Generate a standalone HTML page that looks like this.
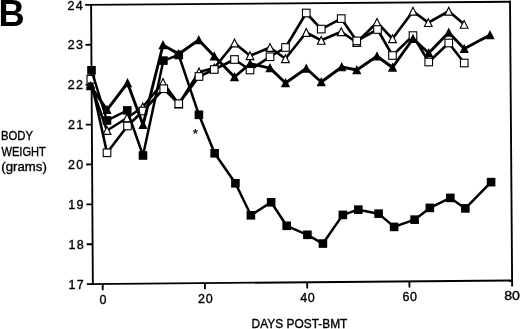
<!DOCTYPE html>
<html><head><meta charset="utf-8"><title>B</title>
<style>
html,body{margin:0;padding:0;background:#fff;}
svg{display:block;}
text{font-family:"Liberation Sans",sans-serif;fill:#000;}
</style></head>
<body>
<svg width="520" height="329" viewBox="0 0 520 329">
<rect width="520" height="329" fill="#fff"/>
<g stroke="#000" stroke-width="1.85" fill="none" stroke-linecap="butt">
<line x1="85.1" y1="4.95" x2="511.0" y2="1.75"/>
<line x1="510.0" y1="0.75" x2="512.15" y2="286.5"/>
<line x1="86.85" y1="284.15000000000003" x2="512.1" y2="280.5"/>
<line x1="91.1" y1="4.9" x2="92.85" y2="285.1"/>
<line x1="85.35" y1="44.84" x2="91.35" y2="44.79"/>
<line x1="85.60" y1="84.72" x2="91.60" y2="84.67"/>
<line x1="85.85" y1="124.61" x2="91.85" y2="124.56"/>
<line x1="86.10" y1="164.49" x2="92.10" y2="164.44"/>
<line x1="86.35" y1="204.38" x2="92.35" y2="204.33"/>
<line x1="86.60" y1="244.26" x2="92.60" y2="244.21"/>
<line x1="102.68" y1="284.01" x2="102.72" y2="290.21"/>
<line x1="204.93" y1="283.13" x2="204.97" y2="289.33"/>
<line x1="307.19" y1="282.26" x2="307.23" y2="288.46"/>
<line x1="409.44" y1="281.38" x2="409.48" y2="287.58"/>
</g>
<polyline points="90.50,84.00 107.00,130.50 127.00,118.00 142.75,107.00 163.00,82.50 178.75,104.00 199.00,72.00 214.25,68.00 234.50,43.00 250.00,55.75 270.00,47.50 285.40,58.75 306.25,32.50 321.25,40.30 341.25,31.75 356.75,42.50 377.00,22.40 392.50,38.75 413.00,11.25 428.30,22.60 448.75,11.25 464.10,24.30" fill="none" stroke="#000" stroke-width="2.6" stroke-linejoin="round"/>
<polygon points="90.50,80.10 94.40,87.90 86.60,87.90" fill="#fff" stroke="#000" stroke-width="1.1" stroke-linejoin="miter"/>
<polygon points="107.00,126.60 110.90,134.40 103.10,134.40" fill="#fff" stroke="#000" stroke-width="1.1" stroke-linejoin="miter"/>
<polygon points="127.00,114.10 130.90,121.90 123.10,121.90" fill="#fff" stroke="#000" stroke-width="1.1" stroke-linejoin="miter"/>
<polygon points="142.75,103.10 146.65,110.90 138.85,110.90" fill="#fff" stroke="#000" stroke-width="1.1" stroke-linejoin="miter"/>
<polygon points="163.00,78.60 166.90,86.40 159.10,86.40" fill="#fff" stroke="#000" stroke-width="1.1" stroke-linejoin="miter"/>
<polygon points="178.75,100.10 182.65,107.90 174.85,107.90" fill="#fff" stroke="#000" stroke-width="1.1" stroke-linejoin="miter"/>
<polygon points="199.00,68.10 202.90,75.90 195.10,75.90" fill="#fff" stroke="#000" stroke-width="1.1" stroke-linejoin="miter"/>
<polygon points="214.25,64.10 218.15,71.90 210.35,71.90" fill="#fff" stroke="#000" stroke-width="1.1" stroke-linejoin="miter"/>
<polygon points="234.50,39.10 238.40,46.90 230.60,46.90" fill="#fff" stroke="#000" stroke-width="1.1" stroke-linejoin="miter"/>
<polygon points="250.00,51.85 253.90,59.65 246.10,59.65" fill="#fff" stroke="#000" stroke-width="1.1" stroke-linejoin="miter"/>
<polygon points="270.00,43.60 273.90,51.40 266.10,51.40" fill="#fff" stroke="#000" stroke-width="1.1" stroke-linejoin="miter"/>
<polygon points="285.40,54.85 289.30,62.65 281.50,62.65" fill="#fff" stroke="#000" stroke-width="1.1" stroke-linejoin="miter"/>
<polygon points="306.25,28.60 310.15,36.40 302.35,36.40" fill="#fff" stroke="#000" stroke-width="1.1" stroke-linejoin="miter"/>
<polygon points="321.25,36.40 325.15,44.20 317.35,44.20" fill="#fff" stroke="#000" stroke-width="1.1" stroke-linejoin="miter"/>
<polygon points="341.25,27.85 345.15,35.65 337.35,35.65" fill="#fff" stroke="#000" stroke-width="1.1" stroke-linejoin="miter"/>
<polygon points="356.75,38.60 360.65,46.40 352.85,46.40" fill="#fff" stroke="#000" stroke-width="1.1" stroke-linejoin="miter"/>
<polygon points="377.00,18.50 380.90,26.30 373.10,26.30" fill="#fff" stroke="#000" stroke-width="1.1" stroke-linejoin="miter"/>
<polygon points="392.50,34.85 396.40,42.65 388.60,42.65" fill="#fff" stroke="#000" stroke-width="1.1" stroke-linejoin="miter"/>
<polygon points="413.00,7.35 416.90,15.15 409.10,15.15" fill="#fff" stroke="#000" stroke-width="1.1" stroke-linejoin="miter"/>
<polygon points="428.30,18.70 432.20,26.50 424.40,26.50" fill="#fff" stroke="#000" stroke-width="1.1" stroke-linejoin="miter"/>
<polygon points="448.75,7.35 452.65,15.15 444.85,15.15" fill="#fff" stroke="#000" stroke-width="1.1" stroke-linejoin="miter"/>
<polygon points="464.10,20.40 468.00,28.20 460.20,28.20" fill="#fff" stroke="#000" stroke-width="1.1" stroke-linejoin="miter"/>
<polyline points="90.80,79.20 107.00,152.80 127.50,126.00 143.00,111.00 163.75,88.75 178.75,103.75 199.00,76.50 214.25,69.50 234.50,59.50 250.00,70.00 270.00,56.75 285.50,47.50 306.25,13.00 321.25,29.10 341.25,18.60 356.75,40.90 377.50,29.50 392.50,55.50 413.00,35.60 428.75,62.00 448.75,43.00 464.25,63.00" fill="none" stroke="#000" stroke-width="2.6" stroke-linejoin="round"/>
<rect x="87.00" y="75.40" width="7.6" height="7.6" fill="#fff" stroke="#000" stroke-width="1.1"/>
<rect x="103.20" y="149.00" width="7.6" height="7.6" fill="#fff" stroke="#000" stroke-width="1.1"/>
<rect x="123.70" y="122.20" width="7.6" height="7.6" fill="#fff" stroke="#000" stroke-width="1.1"/>
<rect x="139.20" y="107.20" width="7.6" height="7.6" fill="#fff" stroke="#000" stroke-width="1.1"/>
<rect x="159.95" y="84.95" width="7.6" height="7.6" fill="#fff" stroke="#000" stroke-width="1.1"/>
<rect x="174.95" y="99.95" width="7.6" height="7.6" fill="#fff" stroke="#000" stroke-width="1.1"/>
<rect x="195.20" y="72.70" width="7.6" height="7.6" fill="#fff" stroke="#000" stroke-width="1.1"/>
<rect x="210.45" y="65.70" width="7.6" height="7.6" fill="#fff" stroke="#000" stroke-width="1.1"/>
<rect x="230.70" y="55.70" width="7.6" height="7.6" fill="#fff" stroke="#000" stroke-width="1.1"/>
<rect x="246.20" y="66.20" width="7.6" height="7.6" fill="#fff" stroke="#000" stroke-width="1.1"/>
<rect x="266.20" y="52.95" width="7.6" height="7.6" fill="#fff" stroke="#000" stroke-width="1.1"/>
<rect x="281.70" y="43.70" width="7.6" height="7.6" fill="#fff" stroke="#000" stroke-width="1.1"/>
<rect x="302.45" y="9.20" width="7.6" height="7.6" fill="#fff" stroke="#000" stroke-width="1.1"/>
<rect x="317.45" y="25.30" width="7.6" height="7.6" fill="#fff" stroke="#000" stroke-width="1.1"/>
<rect x="337.45" y="14.80" width="7.6" height="7.6" fill="#fff" stroke="#000" stroke-width="1.1"/>
<rect x="352.95" y="37.10" width="7.6" height="7.6" fill="#fff" stroke="#000" stroke-width="1.1"/>
<rect x="373.70" y="25.70" width="7.6" height="7.6" fill="#fff" stroke="#000" stroke-width="1.1"/>
<rect x="388.70" y="51.70" width="7.6" height="7.6" fill="#fff" stroke="#000" stroke-width="1.1"/>
<rect x="409.20" y="31.80" width="7.6" height="7.6" fill="#fff" stroke="#000" stroke-width="1.1"/>
<rect x="424.95" y="58.20" width="7.6" height="7.6" fill="#fff" stroke="#000" stroke-width="1.1"/>
<rect x="444.95" y="39.20" width="7.6" height="7.6" fill="#fff" stroke="#000" stroke-width="1.1"/>
<rect x="460.45" y="59.20" width="7.6" height="7.6" fill="#fff" stroke="#000" stroke-width="1.1"/>
<polyline points="90.50,86.00 107.00,109.80 127.50,83.00 143.00,124.80 163.00,45.00 178.75,54.00 198.75,40.00 214.25,56.25 234.50,77.00 250.10,63.75 270.00,68.10 285.50,83.00 306.25,68.50 321.25,82.00 341.75,67.00 356.75,70.00 377.00,56.25 392.50,67.50 413.00,38.75 428.75,53.00 448.75,32.50 464.25,48.75 490.00,35.00" fill="none" stroke="#000" stroke-width="2.9" stroke-linejoin="round"/>
<polygon points="90.50,81.00 95.10,90.20 85.90,90.20" fill="#000"/>
<polygon points="107.00,104.80 111.60,114.00 102.40,114.00" fill="#000"/>
<polygon points="127.50,78.00 132.10,87.20 122.90,87.20" fill="#000"/>
<polygon points="143.00,119.80 147.60,129.00 138.40,129.00" fill="#000"/>
<polygon points="163.00,40.00 167.60,49.20 158.40,49.20" fill="#000"/>
<polygon points="178.75,49.00 183.35,58.20 174.15,58.20" fill="#000"/>
<polygon points="198.75,35.00 203.35,44.20 194.15,44.20" fill="#000"/>
<polygon points="214.25,51.25 218.85,60.45 209.65,60.45" fill="#000"/>
<polygon points="234.50,72.00 239.10,81.20 229.90,81.20" fill="#000"/>
<polygon points="250.10,58.75 254.70,67.95 245.50,67.95" fill="#000"/>
<polygon points="270.00,63.10 274.60,72.30 265.40,72.30" fill="#000"/>
<polygon points="285.50,78.00 290.10,87.20 280.90,87.20" fill="#000"/>
<polygon points="306.25,63.50 310.85,72.70 301.65,72.70" fill="#000"/>
<polygon points="321.25,77.00 325.85,86.20 316.65,86.20" fill="#000"/>
<polygon points="341.75,62.00 346.35,71.20 337.15,71.20" fill="#000"/>
<polygon points="356.75,65.00 361.35,74.20 352.15,74.20" fill="#000"/>
<polygon points="377.00,51.25 381.60,60.45 372.40,60.45" fill="#000"/>
<polygon points="392.50,62.50 397.10,71.70 387.90,71.70" fill="#000"/>
<polygon points="413.00,33.75 417.60,42.95 408.40,42.95" fill="#000"/>
<polygon points="428.75,48.00 433.35,57.20 424.15,57.20" fill="#000"/>
<polygon points="448.75,27.50 453.35,36.70 444.15,36.70" fill="#000"/>
<polygon points="464.25,43.75 468.85,52.95 459.65,52.95" fill="#000"/>
<polygon points="490.00,30.00 494.60,39.20 485.40,39.20" fill="#000"/>
<polyline points="91.50,70.30 107.00,120.50 127.25,110.40 143.00,155.50 163.40,60.60 178.75,55.00 198.90,114.80 214.65,153.30 235.40,183.30 250.90,215.30 271.15,202.30 286.65,225.80 307.40,234.80 322.90,243.55 342.85,214.90 358.35,209.65 378.60,213.65 394.10,226.90 414.60,219.65 429.85,207.90 450.35,197.90 465.35,208.40 491.10,182.15" fill="none" stroke="#000" stroke-width="2.5" stroke-linejoin="round"/>
<rect x="87.20" y="66.00" width="8.6" height="8.6" fill="#000"/>
<rect x="102.70" y="116.20" width="8.6" height="8.6" fill="#000"/>
<rect x="122.95" y="106.10" width="8.6" height="8.6" fill="#000"/>
<rect x="138.70" y="151.20" width="8.6" height="8.6" fill="#000"/>
<rect x="159.10" y="56.30" width="8.6" height="8.6" fill="#000"/>
<rect x="174.45" y="50.70" width="8.6" height="8.6" fill="#000"/>
<rect x="194.60" y="110.50" width="8.6" height="8.6" fill="#000"/>
<rect x="210.35" y="149.00" width="8.6" height="8.6" fill="#000"/>
<rect x="231.10" y="179.00" width="8.6" height="8.6" fill="#000"/>
<rect x="246.60" y="211.00" width="8.6" height="8.6" fill="#000"/>
<rect x="266.85" y="198.00" width="8.6" height="8.6" fill="#000"/>
<rect x="282.35" y="221.50" width="8.6" height="8.6" fill="#000"/>
<rect x="303.10" y="230.50" width="8.6" height="8.6" fill="#000"/>
<rect x="318.60" y="239.25" width="8.6" height="8.6" fill="#000"/>
<rect x="338.55" y="210.60" width="8.6" height="8.6" fill="#000"/>
<rect x="354.05" y="205.35" width="8.6" height="8.6" fill="#000"/>
<rect x="374.30" y="209.35" width="8.6" height="8.6" fill="#000"/>
<rect x="389.80" y="222.60" width="8.6" height="8.6" fill="#000"/>
<rect x="410.30" y="215.35" width="8.6" height="8.6" fill="#000"/>
<rect x="425.55" y="203.60" width="8.6" height="8.6" fill="#000"/>
<rect x="446.05" y="193.60" width="8.6" height="8.6" fill="#000"/>
<rect x="461.05" y="204.10" width="8.6" height="8.6" fill="#000"/>
<rect x="486.80" y="177.85" width="8.6" height="8.6" fill="#000"/>
<text x="-1.5" y="26.2" font-size="36.3" font-weight="bold">B</text>
<text x="67.50" y="9.50" font-size="12.5" textLength="15.2" lengthAdjust="spacing" stroke="#000" stroke-width="0.35">24</text>
<text x="67.65" y="49.39" font-size="12.5" textLength="15.2" lengthAdjust="spacing" stroke="#000" stroke-width="0.35">23</text>
<text x="67.80" y="89.27" font-size="12.5" textLength="15.2" lengthAdjust="spacing" stroke="#000" stroke-width="0.35">22</text>
<text x="67.95" y="129.16" font-size="12.5" textLength="15.2" lengthAdjust="spacing" stroke="#000" stroke-width="0.35">21</text>
<text x="68.10" y="169.04" font-size="12.5" textLength="15.2" lengthAdjust="spacing" stroke="#000" stroke-width="0.35">20</text>
<text x="68.25" y="208.93" font-size="12.5" textLength="15.2" lengthAdjust="spacing" stroke="#000" stroke-width="0.35">19</text>
<text x="68.40" y="248.81" font-size="12.5" textLength="15.2" lengthAdjust="spacing" stroke="#000" stroke-width="0.35">18</text>
<text x="68.55" y="288.70" font-size="12.5" textLength="15.2" lengthAdjust="spacing" stroke="#000" stroke-width="0.35">17</text>
<text x="102.9" y="303.5" font-size="12.5" text-anchor="middle" stroke="#000" stroke-width="0.35">0</text>
<text x="198.00" y="302.5" font-size="12.5" textLength="14.6" lengthAdjust="spacing" stroke="#000" stroke-width="0.35">20</text>
<text x="300.20" y="302.0" font-size="12.5" textLength="14.6" lengthAdjust="spacing" stroke="#000" stroke-width="0.35">40</text>
<text x="402.45" y="300.8" font-size="12.5" textLength="14.6" lengthAdjust="spacing" stroke="#000" stroke-width="0.35">60</text>
<text x="504.2" y="300.2" font-size="12.5" textLength="15.7" lengthAdjust="spacingAndGlyphs" stroke="#000" stroke-width="0.35">80</text>
<text x="1.0" y="139.8" font-size="12.3" textLength="32" lengthAdjust="spacingAndGlyphs" stroke="#000" stroke-width="0.35">BODY</text>
<text x="1.5" y="155.7" font-size="12.3" textLength="44.3" lengthAdjust="spacingAndGlyphs" stroke="#000" stroke-width="0.35">WEIGHT</text>
<text x="1.3" y="170.8" font-size="12.6" textLength="45.6" lengthAdjust="spacingAndGlyphs" stroke="#000" stroke-width="0.35">(grams)</text>
<text x="251.6" y="327.8" font-size="12.3" textLength="95.8" lengthAdjust="spacingAndGlyphs" stroke="#000" stroke-width="0.35">DAYS POST-BMT</text>
<text x="195.4" y="137.9" font-size="13.5" text-anchor="middle" stroke="#000" stroke-width="0.25">*</text>
</svg>
</body></html>
